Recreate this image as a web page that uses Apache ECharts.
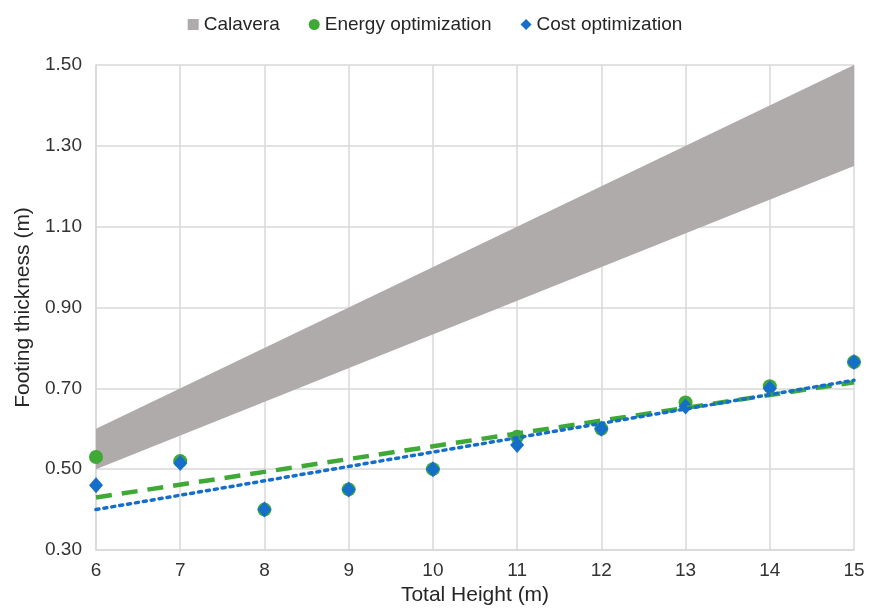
<!DOCTYPE html>
<html>
<head>
<meta charset="utf-8">
<script src="https://cdn.jsdelivr.net/npm/echarts@6/dist/echarts.min.js"></script>
<style>html,body{margin:0;padding:0;background:#fff;}#c{width:870px;height:615px;}</style>
</head>
<body>
<div id="c"></div>
<script>
const heights = [6, 7, 8, 9, 10, 11, 12, 13, 14, 15];
const energyOpt = [0.53, 0.52, 0.40, 0.45, 0.50, 0.58, 0.60, 0.665, 0.705, 0.765];
const costOpt   = [0.46, 0.515, 0.40, 0.45, 0.50, 0.56, 0.60, 0.655, 0.70, 0.765];
// Calavera band (read at ends of range)
const calaveraX = [6, 15];
const calaveraLow = [0.50, 1.25];
const calaveraHigh = [0.60, 1.50];
// Trendlines (start, end)
const energyTrend = [0.43, 0.715];
const costTrend = [0.40, 0.72];
const yTicks = [0.30, 0.50, 0.70, 0.90, 1.10, 1.30, 1.50];

const font = 'Liberation Sans, Arial, sans-serif';
const green = '#3FA936';
const blue = '#166ECB';
const gray = '#AFABAB';

// polygon points of the band: upper edge left->right, lower edge right->left
const bandPoints = calaveraX.map((x, i) => [x, calaveraHigh[i]])
  .concat(calaveraX.map((x, i) => [x, calaveraLow[i]]).reverse());

const chart = echarts.init(document.getElementById('c'));
chart.setOption({
  animation: false,
  textStyle: { fontFamily: font },
  legend: {
    top: 10, left: 'center',
    itemWidth: 11, itemHeight: 11, itemGap: 29,
    textStyle: { fontSize: 19, color: '#262626', fontFamily: font },
    data: [
      { name: 'Calavera', icon: 'rect', itemStyle: { color: gray } },
      { name: 'Energy optimization', icon: 'circle', itemStyle: { color: green } },
      { name: 'Cost optimization', icon: 'diamond', itemStyle: { color: blue } }
    ]
  },
  grid: { left: 96, right: 16, top: 65, bottom: 65 },
  xAxis: {
    type: 'value', min: 6, max: 15, interval: 1,
    name: 'Total Height (m)', nameLocation: 'middle', nameGap: 31,
    nameTextStyle: { fontSize: 21, color: '#262626', fontFamily: font },
    axisLine: { show: true, lineStyle: { color: '#D9D9D9', width: 1.5 } },
    axisTick: { show: false },
    axisLabel: { fontSize: 19, color: '#333333', margin: 11, fontFamily: font },
    splitLine: { show: true, lineStyle: { color: '#D9D9D9', width: 1.5 } }
  },
  yAxis: {
    type: 'value', min: 0.30, max: 1.50, interval: 0.20,
    name: 'Footing thickness (m)', nameLocation: 'middle', nameGap: 59,
    nameTextStyle: { fontSize: 21, color: '#262626', fontFamily: font },
    axisLine: { show: true, lineStyle: { color: '#D9D9D9', width: 1.5 } },
    axisTick: { show: false },
    axisLabel: { fontSize: 19, color: '#333333', margin: 14, fontFamily: font,
      formatter: v => v.toFixed(2) },
    splitLine: { show: true, lineStyle: { color: '#D9D9D9', width: 1.5 } }
  },
  series: [
    {
      name: 'Calavera', type: 'custom', z: 1,
      itemStyle: { color: gray },
      data: [0],
      renderItem: function (params, api) {
        const pts = bandPoints.map(p => api.coord(p));
        return { type: 'polygon', shape: { points: pts }, style: { fill: gray } };
      }
    },
    {
      name: 'Energy optimization', type: 'scatter', symbol: 'circle', symbolSize: 14,
      data: heights.map((x, i) => [x, energyOpt[i]]),
      itemStyle: { color: green, opacity: 1 }, z: 3
    },
    {
      name: 'Cost optimization', type: 'scatter', symbol: 'diamond', symbolSize: [14, 16],
      data: heights.map((x, i) => [x, costOpt[i]]),
      itemStyle: { color: blue, opacity: 1 }, z: 4
    },
    {
      name: 'Energy trend', type: 'line', symbol: 'none',
      data: [[heights[0], energyTrend[0]], [heights[heights.length - 1], energyTrend[1]]],
      lineStyle: { color: green, width: 4.5, type: [16, 10] }, z: 5, silent: true
    },
    {
      name: 'Cost trend', type: 'line', symbol: 'none',
      data: [[heights[0], costTrend[0]], [heights[heights.length - 1], costTrend[1]]],
      lineStyle: { color: blue, width: 3.5, type: [3, 5], cap: 'round' }, z: 6, silent: true
    }
  ]
});
</script>
</body>
</html>
